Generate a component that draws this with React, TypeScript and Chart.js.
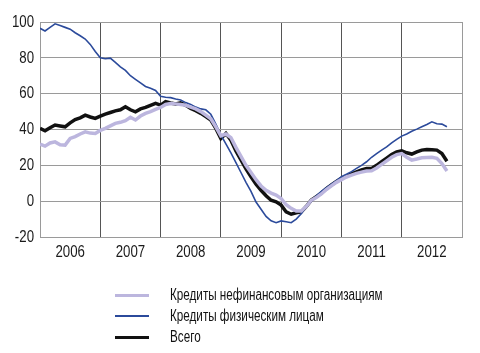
import React, { useEffect, useRef } from "react";
import { Chart, registerables } from "chart.js";

Chart.register(...registerables);

const yearLabels = ["2006", "2007", "2008", "2009", "2010", "2011", "2012"];
const yTickValues = [-20, 0, 20, 40, 60, 80, 100];

const seriesNames = [
  "Кредиты нефинансовым организациям",
  "Кредиты физическим лицам",
  "Всего",
];

// monthly values, Jan 2006 .. Oct 2012
const nonFinancial = [
  31.8, 30.7, 32.5, 33.1, 31.5, 31.3, 35, 36, 37.5, 38.7, 38, 37.8,
  39.5, 40.6, 42, 43.4, 44, 44.9, 46.8, 45.3, 47.5, 49, 50, 51.2,
  52.3, 54, 54.5, 54.3, 54, 53.5, 52.5, 51.5, 50, 48, 46, 41.5,
  36.5, 37.5, 35.5, 30, 25, 20, 16, 12, 8.5, 6, 4.5, 3.4,
  1.5, -2, -4, -5.5, -5.5, -3, 0.5, 2, 4, 6.5, 8.5, 10.5,
  12, 13.5, 14.5, 15.5, 16.2, 16.8, 17, 18.5, 20.5, 22.5, 24.5, 26,
  26.6, 24.5, 22.9, 23.5, 24.2, 24.4, 24.5, 23.9, 21, 16.9,
];

const households = [
  96.5, 95, 97, 99, 98, 97, 96, 94, 92.3, 90.5, 87.5, 83.5,
  80, 79.5, 79.8, 77.5, 75, 73, 70, 68, 66, 64, 63, 61.8,
  58.5, 58, 57.8, 57, 56.5, 55, 54, 52.5, 51.5, 51, 48.5, 43,
  37, 32, 27, 21.5, 16, 10.5, 5.5, -0.5, -4.5, -8.5, -11, -12,
  -11, -11.5, -12, -10, -7, -3, 0, 3, 5.5, 7.5, 9.5, 11.5,
  13.6, 15, 16.5, 18.3, 20, 22, 24.5, 26.5, 28.5, 30.3, 32.5, 34.5,
  36.3, 37.5, 39, 40.2, 41.5, 42.8, 44.3, 43.2, 43, 41.5,
];

const total = [
  40.6, 39.3, 41, 42.5, 42, 41.5, 43.7, 45.5, 46.5, 48, 47, 46.2,
  47.5, 48.6, 49.5, 50.4, 51, 52.7, 51, 49.9, 51.5, 52.3, 53.5, 54.6,
  53.6, 55.5, 54.8, 54.2, 54.9, 53.5, 51.8, 50.5, 49, 47.2, 45.3, 40.6,
  35, 37.8, 34, 28, 23, 18, 13.6, 9.5, 6.1, 3, 0.5, -0.4,
  -2.2, -6, -7.3, -6.5, -6, -3, 0.6, 2.5, 4.5, 7, 9, 11,
  12.7, 14, 15.3, 16.4, 17.5, 18.3, 18.3, 20, 22, 24, 26, 27.5,
  28.1, 27, 26.3, 27.5, 28.5, 28.8, 28.7, 28.5, 26.6, 22.3,
];

const colors = ["#bcb6de", "#2b4a9b", "#111111"];
const widths = [3.5, 1.6, 3.5];

const FONT = "'Liberation Sans', Arial, sans-serif";

// draws tick labels in a condensed style (horizontally squeezed real text)
const condensedLabels = {
  id: "condensedLabels",
  afterDraw(chart: any) {
    const ctx = chart.ctx as CanvasRenderingContext2D;
    const xs = chart.scales.x;
    const ys = chart.scales.y;
    ctx.save();
    ctx.fillStyle = "#1a1a1a";
    ctx.font = `17px ${FONT}`;
    ctx.textBaseline = "middle";
    ctx.textAlign = "right";
    for (const v of yTickValues) {
      const y = ys.getPixelForValue(v);
      ctx.save();
      ctx.translate(ys.right - 6, y);
      ctx.scale(0.78, 1);
      ctx.fillText(String(v), 0, 0);
      ctx.restore();
    }
    ctx.textAlign = "center";
    yearLabels.forEach((lab, i) => {
      const x = xs.getPixelForValue(i * 12 + 6);
      ctx.save();
      ctx.translate(x, xs.top + 15);
      ctx.scale(0.78, 1);
      ctx.fillText(lab, 0, 0);
      ctx.restore();
    });
    ctx.restore();
  },
};

export default function App() {
  const ref = useRef<HTMLCanvasElement>(null);

  useEffect(() => {
    const toPts = (arr: number[]) => arr.map((v, i) => ({ x: i, y: v }));
    const all = [nonFinancial, households, total];
    const chart = new Chart(ref.current!, {
      type: "line",
      data: {
        datasets: all.map((arr, k) => ({
          label: seriesNames[k],
          data: toPts(arr),
          borderColor: colors[k],
          borderWidth: widths[k],
          pointRadius: 0,
          tension: 0,
          fill: false,
        })),
      },
      options: {
        animation: false,
        responsive: false,
        events: [],
        layout: { padding: { left: 0, right: 10, top: 14, bottom: 78 } },
        plugins: { legend: { display: false }, tooltip: { enabled: false } },
        scales: {
          x: {
            type: "linear",
            min: 0,
            max: 84,
            afterBuildTicks: (scale: any) => {
              const t = [];
              for (let v = 0; v <= 84; v += 12) t.push({ value: v });
              scale.ticks = t;
            },
            afterFit: (scale: any) => {
              scale.height = 30;
            },
            grid: {
              drawTicks: false,
              color: (ctx: any) => {
                const v = ctx.tick ? ctx.tick.value : 0;
                if (v === 0 || v === 84) return "#9a9a9a";
                return "#555555";
              },
              lineWidth: 1,
            },
            border: { display: true, color: "#9a9a9a" },
            ticks: { display: false, autoSkip: false },
          },
          y: {
            min: -20,
            max: 100,
            afterFit: (scale: any) => {
              scale.width = 32;
            },
            grid: { drawTicks: false, color: "#9a9a9a", lineWidth: 1 },
            border: { display: true, color: "#9a9a9a" },
            ticks: { display: false, stepSize: 20 },
          },
        },
      },
      plugins: [condensedLabels],
    });
    return () => chart.destroy();
  }, []);

  return (
    <div style={{ position: "relative", width: 464, height: 337 }}>
      <canvas ref={ref} width={464} height={337} style={{ display: "block" }} />
      {seriesNames.map((name, k) => (
        <div
          key={k}
          style={{
            position: "absolute",
            left: 107,
            top: 278 + k * 21,
            height: 18,
            display: "flex",
            alignItems: "center",
            fontFamily: FONT,
            fontSize: 16,
            color: "#111",
            whiteSpace: "nowrap",
          }}
        >
          <span
            style={{
              display: "inline-block",
              width: 34,
              height: k === 1 ? 2 : 3,
              background: colors[k],
              marginRight: 21,
            }}
          />
          <span
            style={{
              display: "inline-block",
              transform: "scaleX(0.73)",
              transformOrigin: "left center",
            }}
          >
            {name}
          </span>
        </div>
      ))}
    </div>
  );
}
